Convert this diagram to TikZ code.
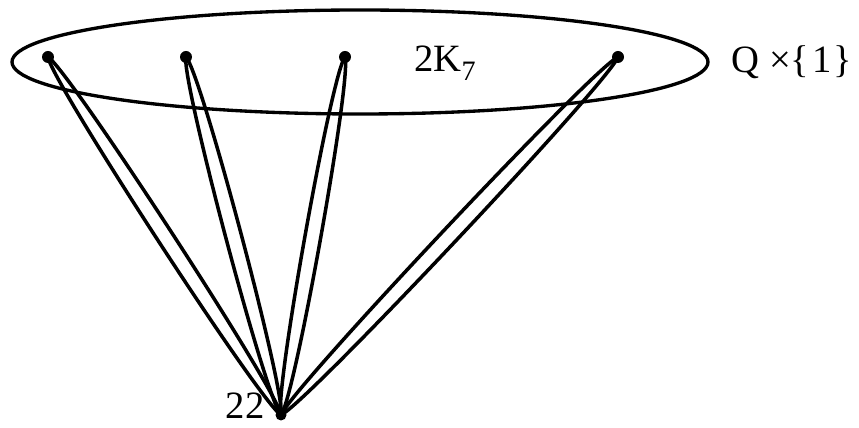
\documentclass[tikz,border=0pt]{standalone}
\usepackage{fontspec}
\setmainfont{Liberation Serif}
\usepackage{tikz}
\usetikzlibrary{calc}
\tikzset{
  vdot/.style={circle, fill=black, inner sep=0pt, minimum size=0.24cm},
  setline/.style={line width=1.9pt, draw=black},
  lensline/.style={line width=2pt, draw=black, line join=round},
  biglabel/.style={font=\fontsize{22}{26}\selectfont, inner sep=0pt},
}

\begin{document}
\begin{tikzpicture}[x=0.02cm,y=-0.02cm]
  \useasboundingbox (0,0) rectangle (859,428);
  % the set Q x {1}
  \draw[setline] (360,62) ellipse [x radius=348, y radius=52];

  \node[vdot] (a1) at (48,57) {};
  \node[vdot] (a2) at (186,57) {};
  \node[vdot] (a3) at (345,57) {};
  \node[vdot] (a4) at (618,57) {};
  \node[vdot, minimum size=0.22cm] (v) at (281,415) {};

  \node[biglabel] (k7) at (445,63) {2K\raisebox{-0.5ex}{\fontsize{16}{18}\selectfont 7}};
  \node[biglabel] (q1) at (792,62) {Q ×\{\kern1.5pt1\kern1.5pt\}};
  \node[biglabel, anchor=base east] (n22) at (265,419) {22};

  % two parallel edges from each vertex down to 22
  \foreach \d in {a1,a2,a3,a4} {
    \draw[lensline] (\d.center) .. controls ($(\d.center)!0.05!(v.center)!0.21cm!90:(v.center)$) and ($(\d.center)!0.95!(v.center)!0.21cm!90:(v.center)$) .. (v.center);
    \draw[lensline] (\d.center) .. controls ($(\d.center)!0.05!(v.center)!0.21cm!-90:(v.center)$) and ($(\d.center)!0.95!(v.center)!0.21cm!-90:(v.center)$) .. (v.center);
  }
\end{tikzpicture}
\end{document}
